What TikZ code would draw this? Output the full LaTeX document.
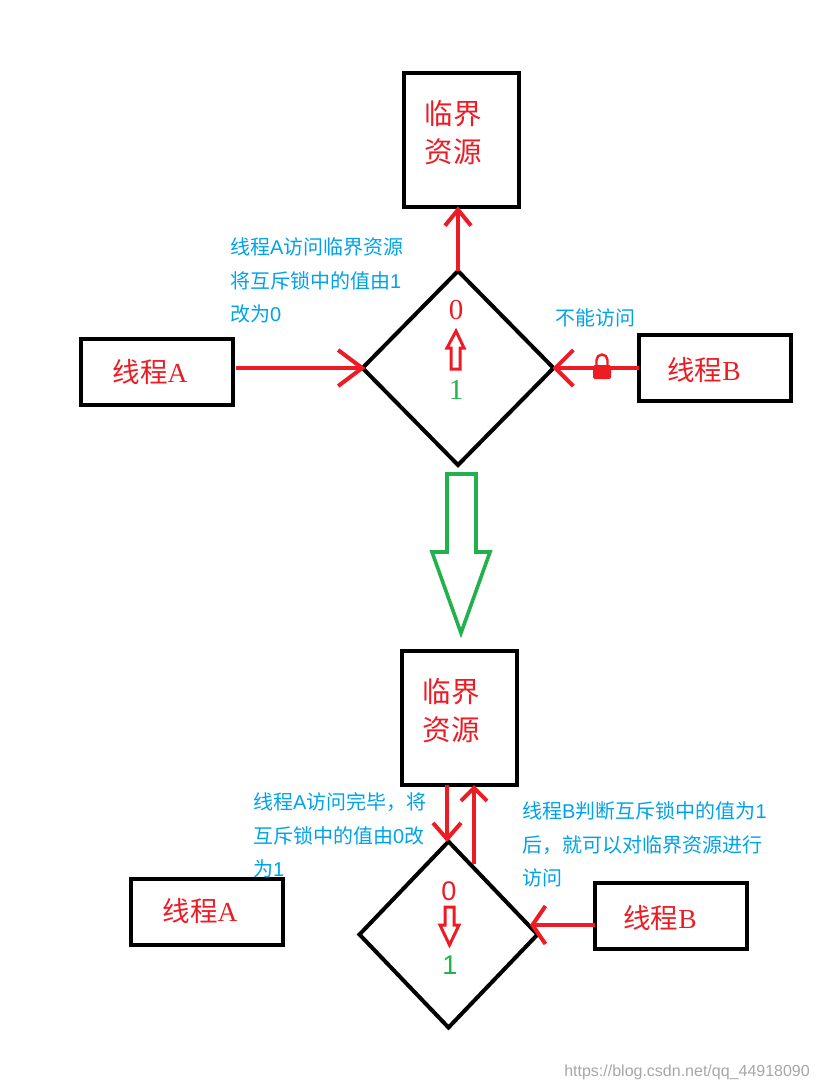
\documentclass[tikz,border=0pt]{standalone}
\usepackage{fontspec}
\usetikzlibrary{shapes.geometric,arrows.meta}
\setmainfont{Liberation Serif}
\newfontfamily\cjk{Noto Sans CJK SC}
\newfontfamily\lsans{Liberation Sans}
\definecolor{myred}{HTML}{ED1C24}
\definecolor{mygreen}{HTML}{22B14C}
\definecolor{myblue}{HTML}{00A2E8}
\tikzset{
  box/.style={draw=black,line width=4pt,inner sep=0pt,outer sep=0pt,rectangle},
  resbox/.style={box,minimum width=115pt,minimum height=134pt},
  restext/.style={text=myred,align=center,inner sep=0pt,font=\fontsize{28.5}{38}\selectfont\cjk},
  thbox/.style={box,minimum width=152pt,minimum height=66pt},
  thtext/.style={text=myred,font=\fontsize{27.5}{30}\selectfont},
  gate/.style={draw=black,line width=4pt,diamond,inner sep=0pt,outer sep=0pt,aspect=1},
  redarrow/.style 2 args={draw=myred,line width=4pt,-{Straight Barb[length=#1,width=#2,line width=4pt]}},
  bluenote/.style={text=myblue,align=left,anchor=north west,inner sep=0pt,font=\fontsize{20}{33.5}\selectfont\cjk},
  blockred/.style={draw=myred,line width=3pt,fill=white,line join=miter},
  blockgreen/.style={draw=mygreen,line width=3.6pt,fill=white,line join=miter},
  serifnum/.style={font=\fontsize{29}{30}\selectfont,inner sep=0pt},
  sansnum/.style={font=\fontsize{27}{30}\selectfont\lsans,inner sep=0pt}
}
\newcommand{\thA}{{\cjk 线程}A}
\newcommand{\thB}{{\cjk 线程}B}
\begin{document}
\begin{tikzpicture}[x=1pt,y=-1pt]
\useasboundingbox (0,0) rectangle (818,1090);
% upper part
\node[resbox] (res1) at (461,139.5) {};
\node[restext] (res1t) at (453,133) {临界\\资源};
\node[gate,minimum width=191pt,minimum height=194pt] (gate1) at (458,368) {};
\node[thbox] (ta1) at (156.5,372) {};
\node[thtext] (ta1t) at (150,372) {\thA};
\node[thbox] (tb1) at (714.5,368) {};
\node[thtext] (tb1t) at (704,370) {\thB};
\node[bluenote] (n1) at (230,237.5) {线程{\lsans A}访问临界资源\\将互斥锁中的值由{\lsans 1}\\改为{\lsans 0}};
\node[bluenote] (n2) at (555,308.5) {不能访问};
\node[serifnum,text=myred] (z1) at (456,310) {0};
\node[serifnum,text=mygreen] (o1) at (456,390) {1};
\draw[blockred] (451,369) -- (451,348) -- (447,348) -- (456,331) -- (464,348) -- (460,348) -- (460,369) -- cycle;
\draw[redarrow={16pt}{26pt}] (gate1.north) -- (gate1.north |- res1.south);
\draw[redarrow={24pt}{36pt}] ([xshift=3pt]ta1.east |- gate1.west) -- ([xshift=3pt]gate1.west);
\draw[redarrow={18pt}{36pt}] (tb1.west |- gate1.east) -- ([xshift=-1pt]gate1.east);
% lock
\fill[myred,rounded corners=1.5pt] (593,365) rectangle (611,379);
\draw[myred,line width=2.4pt] (596.5,366) -- (596.5,360) arc[start angle=180,end angle=0,radius=5.5pt] -- (607.5,366);
% big green arrow
\draw[blockgreen] (447,474) -- (476,474) -- (476,552) -- (490,552) -- (461,633) -- (432,552) -- (447,552) -- cycle;
% lower part
\node[resbox] (res2) at (459,718) {};
\node[restext] (res2t) at (451,711) {临界\\资源};
\node[gate,minimum width=178pt,minimum height=186pt] (gate2) at (448.5,934.5) {};
\node[thbox] (ta2) at (206.5,911.5) {};
\node[thtext] (ta2t) at (200,911) {\thA};
\node[thbox] (tb2) at (670.5,916) {};
\node[thtext] (tb2t) at (660,918) {\thB};
\node[bluenote] (n3) at (253,792.5) {线程{\lsans A}访问完毕，将\\互斥锁中的值由{\lsans 0}改\\为{\lsans 1}};
\node[bluenote] (n4) at (522,801.5) {线程{\lsans B}判断互斥锁中的值为{\lsans 1}\\后，就可以对临界资源进行\\访问};
\node[sansnum,text=myred] (z2) at (449,891) {0};
\node[sansnum,text=mygreen] (o2) at (450,965) {1};
\draw[blockred] (445,907) -- (454,907) -- (454,925) -- (459,925) -- (449.5,945) -- (440,925) -- (445,925) -- cycle;
\coordinate (downend) at (447,842);
\coordinate (upstart) at (474,864);
\coordinate (bend) at (530,925);
\draw[redarrow={16pt}{28pt}] (res2.south -| downend) -- (downend);
\draw[redarrow={13pt}{26pt}] (upstart) -- (upstart |- res2.south);
\draw[redarrow={13pt}{38pt}] (tb2.west |- bend) -- (bend);
% watermark
\node[text=black!35,inner sep=0pt,anchor=east,font=\fontsize{16}{18}\selectfont\lsans] (wm) at (810,1072) {https://blog.csdn.net/qq\_44918090};
\end{tikzpicture}
\end{document}
